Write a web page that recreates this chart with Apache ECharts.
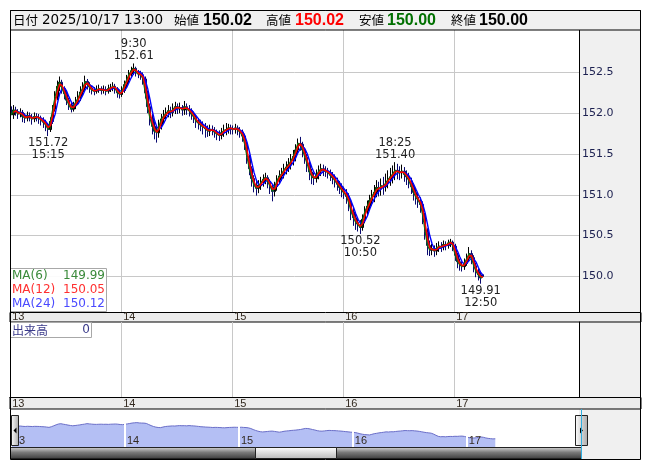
<!DOCTYPE html>
<html><head><meta charset="utf-8">
<script src="https://cdn.jsdelivr.net/npm/echarts@6.0.0/dist/echarts.min.js"></script>
<style>html,body{margin:0;padding:0;background:#fff}#c{width:653px;height:470px}</style>
</head><body><div id="c"></div>
<script>
// ---------------- data ----------------
const dayLabels = ['13','14','15','16','17'];
// 30-minute candles from 13th 7:00 to 17th 13:00
const openP = [
152.08,151.98,152.04,152.02,151.99,152.01,151.96,151.94,151.97,151.95,
151.93,151.96,151.95,151.94,151.91,151.89,151.85,151.80,151.90,152.05,
152.20,152.33,152.38,152.30,152.24,152.16,152.10,152.05,152.09,152.14,
152.19,152.26,152.31,152.39,152.35,152.31,152.28,152.27,152.29,152.30,
152.28,152.29,152.27,152.30,152.31,152.33,152.30,152.25,
152.23,152.28,152.35,152.41,152.48,152.52,152.55,152.50,152.48,152.47,
152.42,152.25,152.08,151.94,151.84,151.78,151.76,151.85,151.93,151.97,
152.00,152.03,152.01,152.05,152.08,152.06,152.07,152.04,152.08,152.05,
152.03,151.99,151.95,151.90,151.88,151.85,151.83,151.81,151.78,151.80,
151.79,151.77,151.74,151.73,151.76,151.79,151.80,151.82,
151.81,151.80,151.82,151.79,151.77,151.72,151.62,151.46,151.32,151.20,
151.12,151.08,151.11,151.15,151.19,151.21,151.16,151.10,151.04,151.10,
151.18,151.23,151.26,151.31,151.34,151.37,151.42,151.47,151.55,151.63,
151.62,151.55,151.46,151.38,151.28,151.22,151.20,151.24,151.29,151.32,
151.30,151.29,151.27,151.24,151.21,151.17,151.13,151.09,
151.05,151.02,150.98,150.90,150.79,150.72,150.66,150.63,150.60,150.70,
150.80,150.86,150.93,150.98,151.03,151.09,151.07,151.11,151.10,151.15,
151.19,151.22,151.26,151.30,151.28,151.27,151.29,151.25,151.22,151.17,
151.10,151.03,150.97,150.93,150.88,150.74,150.55,150.38,150.32,150.34,
150.31,150.35,150.37,150.36,150.39,150.38,150.41,150.42,
150.37,150.26,150.18,150.14,150.12,150.16,150.22,150.28,150.23,150.13,
150.06,150.02,150.02];
const closeP = [
151.98,152.04,152.02,151.99,152.01,151.96,151.94,151.97,151.95,151.93,
151.96,151.95,151.94,151.91,151.89,151.85,151.80,151.90,152.05,152.20,
152.33,152.38,152.30,152.24,152.16,152.10,152.05,152.09,152.14,152.19,
152.26,152.31,152.39,152.35,152.31,152.28,152.27,152.29,152.30,152.28,
152.29,152.27,152.30,152.31,152.33,152.30,152.25,152.23,
152.28,152.35,152.41,152.48,152.52,152.55,152.50,152.48,152.47,152.42,
152.25,152.08,151.94,151.84,151.78,151.76,151.85,151.93,151.97,152.00,
152.03,152.01,152.05,152.08,152.06,152.07,152.04,152.08,152.05,152.03,
151.99,151.95,151.90,151.88,151.85,151.83,151.81,151.78,151.80,151.79,
151.77,151.74,151.73,151.76,151.79,151.80,151.82,151.81,
151.80,151.82,151.79,151.77,151.72,151.62,151.46,151.32,151.20,151.12,
151.08,151.11,151.15,151.19,151.21,151.16,151.10,151.04,151.10,151.18,
151.23,151.26,151.31,151.34,151.37,151.42,151.47,151.55,151.63,151.62,
151.55,151.46,151.38,151.28,151.22,151.20,151.24,151.29,151.32,151.30,
151.29,151.27,151.24,151.21,151.17,151.13,151.09,151.05,
151.02,150.98,150.90,150.79,150.72,150.66,150.63,150.60,150.70,150.80,
150.86,150.93,150.98,151.03,151.09,151.07,151.11,151.10,151.15,151.19,
151.22,151.26,151.30,151.28,151.27,151.29,151.25,151.22,151.17,151.10,
151.03,150.97,150.93,150.88,150.74,150.55,150.38,150.32,150.34,150.31,
150.35,150.37,150.36,150.39,150.38,150.41,150.42,150.37,
150.26,150.18,150.14,150.12,150.16,150.22,150.28,150.23,150.13,150.06,
150.02,149.98,150.00];
const highP = [
152.25,152.10,152.08,152.05,152.06,152.04,152.00,152.02,152.01,151.99,
152.01,152.00,151.99,151.97,151.95,151.92,151.88,151.95,152.10,152.27,
152.40,152.45,152.41,152.33,152.27,152.19,152.13,152.14,152.20,152.27,
152.33,152.38,152.46,152.42,152.38,152.34,152.32,152.34,152.35,152.33,
152.34,152.33,152.35,152.36,152.38,152.36,152.32,152.29,
152.33,152.40,152.47,152.53,152.57,152.61,152.57,152.53,152.52,152.50,
152.45,152.28,152.12,151.99,151.90,151.85,151.92,151.99,152.04,152.07,
152.10,152.08,152.12,152.14,152.12,152.13,152.10,152.15,152.12,152.10,
152.06,152.02,151.98,151.94,151.92,151.90,151.88,151.85,151.86,151.85,
151.83,151.80,151.79,151.82,151.86,151.88,151.87,151.86,
151.85,151.87,151.85,151.83,151.80,151.75,151.65,151.49,151.35,151.24,
151.17,151.18,151.22,151.25,151.27,151.24,151.19,151.13,151.16,151.24,
151.30,151.33,151.38,151.41,151.45,151.50,151.55,151.62,151.69,151.71,
151.65,151.58,151.50,151.42,151.32,151.27,151.31,151.36,151.38,151.37,
151.35,151.33,151.31,151.28,151.25,151.21,151.17,151.14,
151.10,151.07,151.02,150.94,150.84,150.77,150.71,150.69,150.76,150.86,
150.93,151.00,151.06,151.12,151.18,151.16,151.20,151.22,151.26,151.30,
151.33,151.36,151.40,151.38,151.35,151.37,151.34,151.30,151.27,151.21,
151.14,151.08,151.02,150.97,150.92,150.78,150.59,150.44,150.40,150.38,
150.41,150.43,150.42,150.44,150.43,150.45,150.46,150.44,
150.40,150.29,150.22,150.18,150.22,150.28,150.36,150.32,150.26,150.17,
150.10,150.06,150.02];
const lowP = [
151.80,151.93,151.97,151.93,151.95,151.89,151.88,151.90,151.90,151.86,
151.89,151.90,151.87,151.85,151.82,151.78,151.72,151.77,151.87,152.02,
152.16,152.27,152.24,152.17,152.10,152.04,152.01,152.02,152.05,152.10,
152.15,152.22,152.27,152.29,152.25,152.23,152.22,152.24,152.25,152.23,
152.24,152.22,152.24,152.26,152.27,152.24,152.19,152.18,
152.20,152.25,152.31,152.37,152.44,152.47,152.45,152.43,152.41,152.35,
152.18,152.00,151.85,151.74,151.68,151.64,151.70,151.80,151.88,151.91,
151.95,151.94,151.96,151.99,151.99,152.00,151.97,151.98,151.98,151.96,
151.92,151.88,151.82,151.80,151.78,151.74,151.70,151.71,151.72,151.73,
151.70,151.67,151.66,151.68,151.71,151.73,151.75,151.74,
151.74,151.75,151.73,151.70,151.65,151.55,151.38,151.24,151.10,151.03,
150.99,151.02,151.06,151.10,151.13,151.08,151.01,150.92,150.98,151.05,
151.13,151.17,151.20,151.25,151.28,151.31,151.36,151.41,151.50,151.54,
151.46,151.38,151.28,151.18,151.13,151.12,151.15,151.19,151.23,151.23,
151.22,151.20,151.17,151.13,151.09,151.05,151.01,150.97,
150.95,150.89,150.80,150.69,150.62,150.57,150.55,150.52,150.56,150.65,
150.75,150.81,150.87,150.91,150.97,150.98,150.99,151.00,151.04,151.08,
151.11,151.14,151.18,151.19,151.18,151.20,151.16,151.12,151.08,151.01,
150.93,150.88,150.84,150.78,150.64,150.45,150.26,150.25,150.26,150.24,
150.26,150.30,150.30,150.32,150.32,150.34,150.36,150.31,
150.19,150.10,150.07,150.06,150.08,150.13,150.18,150.15,150.05,149.99,
149.95,149.91,150.00];

const maPeriods = [6, 12, 24];            // periods in 5-minute bars
const maNames = ['MA(6)', 'MA(12)', 'MA(24)'];
const maLast = ['149.99', '150.05', '150.12'];
const yTickLabels = ['150.0','150.5','151.0','151.5','152.0','152.5'];

const extremeIdx  = [16, 53, 151, 166, 203];
const extremeKind = ['low','high','low','high','low'];
const extremeTime = ['15:15','9:30','10:50','18:25','12:50'];

const headerLabels = ['日付','始値','高値','安値','終値'];
const headerValues = ['2025/10/17 13:00','150.02','150.02','150.00','150.00'];
const volumeLabel = '出来高';
const volumeValue = '0';

// ---------------- build ----------------
const F = '"DejaVu Sans", Verdana, sans-serif';
const FL = '"Liberation Sans", Arial, sans-serif';
const FJ = '"Noto Sans CJK JP", sans-serif';
const slotsPerDay = 48, mainSlots = 246, overviewSlots = 239;
const barMinutes = 30, baseMinutes = 5;

const categories = [];
for (let i = 0; i < mainSlots; i++) {
  const d = Math.floor(i / slotsPerDay);
  const m = 7 * 60 + (i % slotsPerDay) * barMinutes;
  categories.push((13 + d) + ' ' + Math.floor(m / 60) % 24 + ':' + String(m % 60).padStart(2, '0'));
}
const overviewCats = categories.slice(0, overviewSlots);
const dayFmt = (v, idx) => (idx % slotsPerDay === 0 ? (dayLabels[idx / slotsPerDay] || '') : '');
const daySplit = (idx) => idx % slotsPerDay === 0 && idx / slotsPerDay < dayLabels.length;

const candles = openP.map((o, i) => [o, closeP[i], lowP[i], highP[i]]);
function movingAverage(src, win) {
  return src.map((v, i) => {
    if (i < win - 1) return '-';
    let s = 0;
    for (let k = i - win + 1; k <= i; k++) s += src[k];
    return +(s / win).toFixed(4);
  });
}
const maWindows = maPeriods.map(p => Math.max(1, Math.round(p * baseMinutes / barMinutes)));
const maData = maWindows.map(w => movingAverage(closeP, w));
const maColors = ['#0e6e0e', '#ff0000', '#0000ff'];
const maTextColors = ['#3a8a3a', '#ff3030', '#4a4aff'];

const markData = extremeIdx.map((idx, k) => {
  const isHigh = extremeKind[k] === 'high';
  const v = isHigh ? highP[idx] : lowP[idx];
  return {
    coord: [idx, v],
    symbolSize: 0,
    label: {
      show: true,
      position: isHigh ? 'top' : 'bottom',
      distance: 1,
      formatter: isHigh ? (extremeTime[k] + '\n' + v.toFixed(2)) : (v.toFixed(2) + '\n' + extremeTime[k]),
      color: '#222', fontFamily: F, fontSize: 11.5, lineHeight: 12, align: 'center'
    }
  };
});

// ---------------- chrome (layout) ----------------
const G = [];
G.push({type:'rect', z:-5, shape:{x:579, y:30, width:62, height:430}, style:{fill:'#f0f0f0'}});
G.push({type:'rect', z:50, shape:{x:10.5, y:10.5, width:630, height:19.5}, style:{fill:'#f0f0f0', stroke:'#000', lineWidth:1}});
const hdrLabelX = [13, 174, 266, 359, 451];
const hdrValueX = [42, 203, 295, 387, 479];
const hdrValueColor = ['#000', '#000', '#ff0000', '#007000', '#000'];
headerLabels.forEach((t, k) => {
  G.push({type:'text', z:51, style:{text:t, x:hdrLabelX[k], y:20.5, fill:'#000', font:'12.5px ' + FJ, align:'left', verticalAlign:'middle', textAlign:'left', textVerticalAlign:'middle'}});
});
headerValues.forEach((t, k) => {
  const fnt = k === 0 ? ('13.5px ' + F) : ('bold 16px ' + FL);
  G.push({type:'text', z:51, style:{text:t, x:hdrValueX[k], y:20.5, fill:hdrValueColor[k], font:fnt, align:'left', verticalAlign:'middle', textAlign:'left', textVerticalAlign:'middle'}});
});
G.push({type:'rect', z:10, shape:{x:10, y:312.5, width:631, height:9.5}, style:{fill:'#ececec', stroke:'#000', lineWidth:1}});
G.push({type:'rect', z:10, shape:{x:10, y:397.5, width:631, height:11.5}, style:{fill:'#ececec', stroke:'#000', lineWidth:1}});
G.push({type:'rect', z:30, shape:{x:10.5, y:268.5, width:96, height:43}, style:{fill:'rgba(255,255,255,0.92)', stroke:'#a8a8a8', lineWidth:1}});
maNames.forEach((t, k) => {
  G.push({type:'text', z:31, style:{text:t, x:12, y:275.5 + k * 14, fill:maTextColors[k], font:'12px ' + F, align:'left', verticalAlign:'middle', textAlign:'left', textVerticalAlign:'middle'}});
  G.push({type:'text', z:31, style:{text:maLast[k], x:105, y:275.5 + k * 14, fill:maTextColors[k], font:'12px ' + F, align:'right', verticalAlign:'middle', textAlign:'right', textVerticalAlign:'middle'}});
});
G.push({type:'rect', z:30, shape:{x:10.5, y:322.5, width:81, height:15}, style:{fill:'#fff', stroke:'#a8a8a8', lineWidth:1}});
G.push({type:'text', z:31, style:{text:volumeLabel, x:12, y:330, fill:'#3a3a8a', font:'12px ' + FJ, align:'left', verticalAlign:'middle', textAlign:'left', textVerticalAlign:'middle'}});
G.push({type:'text', z:31, style:{text:volumeValue, x:90, y:330, fill:'#3a3a8a', font:'12px ' + F, align:'right', verticalAlign:'middle', textAlign:'right', textVerticalAlign:'middle'}});
G.push({type:'rect', z:-5, shape:{x:581, y:409, width:60, height:51}, style:{fill:'#f0f0f0'}});
G.push({type:'rect', z:40, shape:{x:10.5, y:447.5, width:571, height:11}, style:{stroke:'#222', lineWidth:1,
  fill:new echarts.graphic.LinearGradient(0,0,0,1,[{offset:0,color:'#d8d8d8'},{offset:0.45,color:'#7a7a7a'},{offset:1,color:'#3c3c3c'}])}});
G.push({type:'rect', z:41, shape:{x:255.5, y:447.5, width:81, height:11}, style:{stroke:'#222', lineWidth:1,
  fill:new echarts.graphic.LinearGradient(0,0,0,1,[{offset:0,color:'#ffffff'},{offset:1,color:'#b8b8b8'}])}});
G.push({type:'rect', z:42, shape:{x:11.5, y:415.5, width:7, height:30}, style:{stroke:'#222', lineWidth:1,
  fill:new echarts.graphic.LinearGradient(0,0,1,0,[{offset:0,color:'#ffffff'},{offset:1,color:'#a8a8a8'}])}});
G.push({type:'polygon', z:43, shape:{points:[[13.5,430.5],[16.5,427.5],[16.5,433.5]]}, style:{fill:'#000'}});
G.push({type:'rect', z:42, shape:{x:575.5, y:415.5, width:12, height:30}, style:{stroke:'#222', lineWidth:1,
  fill:new echarts.graphic.LinearGradient(0,0,1,0,[{offset:0,color:'#ffffff'},{offset:1,color:'#a8a8a8'}])}});
G.push({type:'polygon', z:43, shape:{points:[[580,427.5],[583,430.5],[580,433.5]]}, style:{fill:'#000'}});
G.push({type:'line', z:44, shape:{x1:10.5, y1:409, x2:10.5, y2:459}, style:{stroke:'#30aee0', lineWidth:1}});
G.push({type:'line', z:44, shape:{x1:581.5, y1:409, x2:581.5, y2:459}, style:{stroke:'#30aee0', lineWidth:1}});
G.push({type:'rect', z:60, shape:{x:10.5, y:10.5, width:630, height:449}, style:{fill:'none', stroke:'#000', lineWidth:1}});

const gridLine = '#c8c8c8';
const stripLabel = {color:'#332a20', fontFamily:FL, fontSize:11, lineHeight:11};
const option = {
  animation: false,
  backgroundColor: '#fff',
  grid: [
    {left:10, top:30, width:569, height:287.2},
    {left:10, top:322, width:569, height:75},
    {left:11, top:409, width:565, height:38}
  ],
  xAxis: [
    {gridIndex:0, type:'category', data:categories, boundaryGap:true, z:0,
     axisLine:{show:false}, axisTick:{show:false}, axisLabel:{show:false},
     splitLine:{show:true, interval:daySplit, lineStyle:{color:gridLine, width:1}}},
    {gridIndex:1, type:'category', data:categories, position:'top', boundaryGap:true, z:20,
     axisLine:{show:true, lineStyle:{color:'#000', width:1}}, axisTick:{show:false},
     axisLabel:Object.assign({show:true, interval:slotsPerDay - 1, formatter:dayFmt, align:'left', verticalAlign:'bottom', margin:0, padding:[0,0,0,1]}, stripLabel),
     splitLine:{show:true, interval:daySplit, lineStyle:{color:gridLine, width:1}}},
    {gridIndex:1, type:'category', data:categories, position:'bottom', boundaryGap:true, z:20,
     axisLine:{show:true, lineStyle:{color:'#000', width:1}}, axisTick:{show:false},
     axisLabel:Object.assign({show:true, interval:slotsPerDay - 1, formatter:dayFmt, align:'left', verticalAlign:'top', margin:1, padding:[0,0,0,1]}, stripLabel),
     splitLine:{show:false}},
    {gridIndex:2, type:'category', data:overviewCats, boundaryGap:false, z:5,
     axisLine:{show:false}, axisTick:{show:false},
     axisLabel:Object.assign({show:true, inside:true, interval:slotsPerDay - 1, formatter:dayFmt, align:'left', verticalAlign:'bottom', margin:1, padding:[0,0,0,2]}, stripLabel),
     splitLine:{show:true, interval:daySplit, lineStyle:{color:'#ffffff', width:2}}}
  ],
  yAxis: [
    {gridIndex:0, type:'value', position:'right', min:149.5, max:153.02, interval:0.5, z:0,
     axisLine:{show:true, lineStyle:{color:'#000', width:1}}, axisTick:{show:false},
     axisLabel:{show:true, margin:3, color:'#1c2050', fontFamily:F, fontSize:11,
       formatter: v => (yTickLabels.indexOf(v.toFixed(1)) >= 0 && Math.abs(v * 2 - Math.round(v * 2)) < 1e-6 ? v.toFixed(1) : '')},
     splitLine:{show:true, lineStyle:{color:[gridLine,gridLine,gridLine,gridLine,gridLine,gridLine,gridLine,'rgba(0,0,0,0)','rgba(0,0,0,0)'], width:1}}},
    {gridIndex:1, type:'value', position:'right', min:0, max:1, z:20,
     axisLine:{show:true, lineStyle:{color:'#000', width:1}}, axisTick:{show:false}, axisLabel:{show:false}, splitLine:{show:false}},
    {gridIndex:2, type:'value', min:148.7, max:154.7, show:false, splitLine:{show:false}}
  ],
  series: [
    {type:'candlestick', name:'USDJPY', xAxisIndex:0, yAxisIndex:0, data:candles, barWidth:2, z:2,
     itemStyle:{color:'#0a3d0a', color0:'#1c1cc0', borderColor:'#000000', borderColor0:'#0a0a70', borderWidth:1},
     markPoint:{symbol:'circle', symbolSize:0, data:markData, itemStyle:{color:'rgba(0,0,0,0)'}, silent:true}},
    {type:'line', name:maNames[2], xAxisIndex:0, yAxisIndex:0, data:maData[2], showSymbol:false, z:3,
     lineStyle:{color:maColors[2], width:1.4}},
    {type:'line', name:maNames[0], xAxisIndex:0, yAxisIndex:0, data:maData[0], showSymbol:false, z:3,
     lineStyle:{color:maColors[0], width:1.3}},
    {type:'line', name:maNames[1], xAxisIndex:0, yAxisIndex:0, data:maData[1], showSymbol:false, z:4,
     lineStyle:{color:maColors[1], width:1.5}},
    {type:'line', name:'overview', xAxisIndex:3, yAxisIndex:2, data:closeP, showSymbol:false, z:2,
     lineStyle:{color:'#6a6ec8', width:1}, areaStyle:{color:'#b4bff4', origin:'start', opacity:1}}
  ],
  graphic: {elements: G}
};
const chart = echarts.init(document.getElementById('c'));
chart.setOption(option);
</script></body></html>
